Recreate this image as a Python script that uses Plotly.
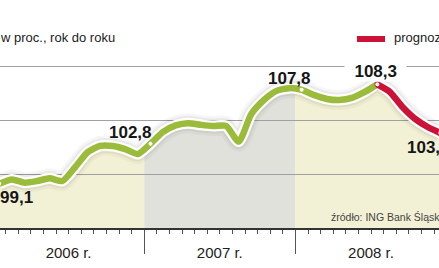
import numpy as np
import plotly.graph_objects as go

# ---- data (monthly index, Jan 2006 - Dec 2008) ----
years = ["2006 r.", "2007 r.", "2008 r."]
v2006 = [99.1, 99.5, 99.2, 99.35, 99.6, 99.35, 100.6, 102.0, 102.6, 102.6, 102.3, 101.85]
v2007 = [102.8, 103.9, 104.5, 104.7, 104.55, 104.45, 104.45, 103.0, 105.55, 106.85, 107.7, 107.95]
v2008 = [107.8, 107.3, 106.95, 106.85, 107.05, 107.6, 108.3, 107.6, 106.2, 105.1, 104.35, 103.8]
forecast_from = 30  # index of Jul 2008: forecast starts here
labelled = [0, 12, 24, 30, 35]

vals = np.array(v2006 + v2007 + v2008)
xm = np.arange(len(vals)) + 0.5  # month centres

W, H = 439, 268
px_per_month = 12.6
px_per_unit = 10.8
x0 = 7 / px_per_month
x1 = x0 + W / px_per_month
y_base = 228
ylo = 95
yhi = ylo + y_base / px_per_unit
ydom0 = (H - y_base) / H

GREEN = "#9bbb3b"
RED = "#cc1236"
YEL = "#f3f1d5"
GRAY = "#e1e1dc"
FONT = "Liberation Sans, Arial, sans-serif"

fig = go.Figure()

# fills per year (subplot 1, beneath gridlines)
fills = [YEL, GRAY, YEL]
for k in range(3):
    a, b = 12 * k, 12 * (k + 1)
    xs = list(xm[a:b])
    ys = list(vals[a:b])
    if k > 0:
        xs = [float(a)] + xs
        ys = [float(np.interp(a, xm, vals))] + ys
    if k < 2:
        xs = xs + [float(b)]
        ys = ys + [float(np.interp(b, xm, vals))]
    else:
        xs = xs + [x1 + 1]
        ys = ys + [ys[-1]]
    fig.add_trace(go.Scatter(x=xs, y=ys, mode="lines", fill="tozeroy",
                             fillcolor=fills[k], line=dict(color="white", width=1.2, shape="spline", smoothing=0.6),
                             xaxis="x", yaxis="y", hoverinfo="skip", showlegend=False))

# lines (subplot 2, above gridlines)
for w, c in [(20, "rgba(0,0,0,0.035)"), (15, "rgba(0,0,0,0.05)"), (11, "white")]:
    fig.add_trace(go.Scatter(x=xm, y=vals, mode="lines",
                             line=dict(color=c, width=w, shape="spline", smoothing=0.6),
                             xaxis="x2", yaxis="y2", hoverinfo="skip", showlegend=False))
fig.add_trace(go.Scatter(x=xm[:forecast_from + 1], y=vals[:forecast_from + 1], mode="lines",
                         line=dict(color=GREEN, width=6.5, shape="spline", smoothing=0.6),
                         xaxis="x2", yaxis="y2", showlegend=False))
fig.add_trace(go.Scatter(x=xm[forecast_from:], y=vals[forecast_from:], mode="lines",
                         line=dict(color=RED, width=6.5, shape="spline", smoothing=0.6),
                         xaxis="x2", yaxis="y2", showlegend=False))
mcol = [GREEN if i < forecast_from else RED for i in labelled]
fig.add_trace(go.Scatter(x=xm[labelled], y=vals[labelled], mode="markers",
                         marker=dict(color="white", size=5, line=dict(color=mcol, width=1)),
                         xaxis="x2", yaxis="y2", showlegend=False))

# value labels (anchor clamped into the visible range so edge labels are drawn)
shifts = {0: (17, -14, None), 12: (-20, 11, None), 24: (-12, 11, None), 30: (-2, 13, "white"), 35: (-12, -15, None)}
eps = 0.01
for i in labelled:
    dx, dy, bg = shifts[i]
    xa = float(np.clip(xm[i], x0 + eps, x1 - eps))
    dx = dx + (xm[i] - xa) * px_per_month
    txt = f"{vals[i]:.1f}".replace(".", ",")
    if bg:
        txt = "\u00a0\u00a0" + txt + "\u00a0\u00a0"
    fig.add_annotation(x=xa, y=vals[i], xref="x2", yref="y2", text=f"<b>{txt}</b>",
                       showarrow=False, xshift=dx, yshift=dy, bgcolor=bg, borderpad=0,
                       font=dict(family=FONT, size=17, color="#161616"))

# title, legend, source
fig.add_annotation(x=117 / W, y=1 - 38 / H, xref="paper", yref="paper", xanchor="right", yanchor="middle",
                   text="w proc., rok do roku", showarrow=False, font=dict(family=FONT, size=13, color="#222"))
fig.add_shape(type="line", xref="paper", yref="paper", x0=357 / W, x1=385 / W, y0=1 - 39 / H, y1=1 - 39 / H,
              line=dict(color=RED, width=6))
fig.add_annotation(x=392 / W, y=1 - 38 / H, xref="paper", yref="paper", xanchor="left", yanchor="middle",
                   text="prognoza", showarrow=False, font=dict(family=FONT, size=13, color="#222"))
fig.add_annotation(x=329 / W, y=1 - 216.5 / H, xref="paper", yref="paper", xanchor="left", yanchor="middle",
                   text="źródło: ING Bank Śląski", showarrow=False, font=dict(family=FONT, size=10.5, color="#444"))

fig.update_layout(
    width=W, height=H, margin=dict(l=0, r=0, t=0, b=0),
    paper_bgcolor="white", plot_bgcolor="rgba(0,0,0,0)", showlegend=False,
    xaxis=dict(domain=[0, 1], range=[x0, x1], anchor="y", showgrid=False, zeroline=False, showline=False,
               tickmode="array", tickvals=[6, 18, 30], ticktext=years, ticks="",
               ticklabelstandoff=14, tickfont=dict(family=FONT, size=15, color="#222"),
               minor=dict(tickmode="array", tickvals=list(range(37)), ticks="outside", ticklen=5,
                          tickcolor="#555", tickwidth=1)),
    yaxis=dict(domain=[ydom0, 1], range=[ylo, yhi], anchor="x", showgrid=False, zeroline=False,
               showticklabels=False),
    xaxis2=dict(domain=[0, 1], range=[x0, x1], anchor="y2", showgrid=False, zeroline=False,
                tickmode="array", tickvals=[0, 12, 24, 36], ticks="outside", ticklen=24, tickcolor="#555",
                tickwidth=1, showticklabels=False, showline=True, linecolor="#333", linewidth=1.5),
    yaxis2=dict(domain=[ydom0, 1], range=[ylo, yhi], anchor="x2", showgrid=True, gridcolor="#a0a0a0",
                gridwidth=1, tickmode="array", tickvals=[100, 105, 110], showticklabels=False, zeroline=False),
)

fig.write_html("out.html")
